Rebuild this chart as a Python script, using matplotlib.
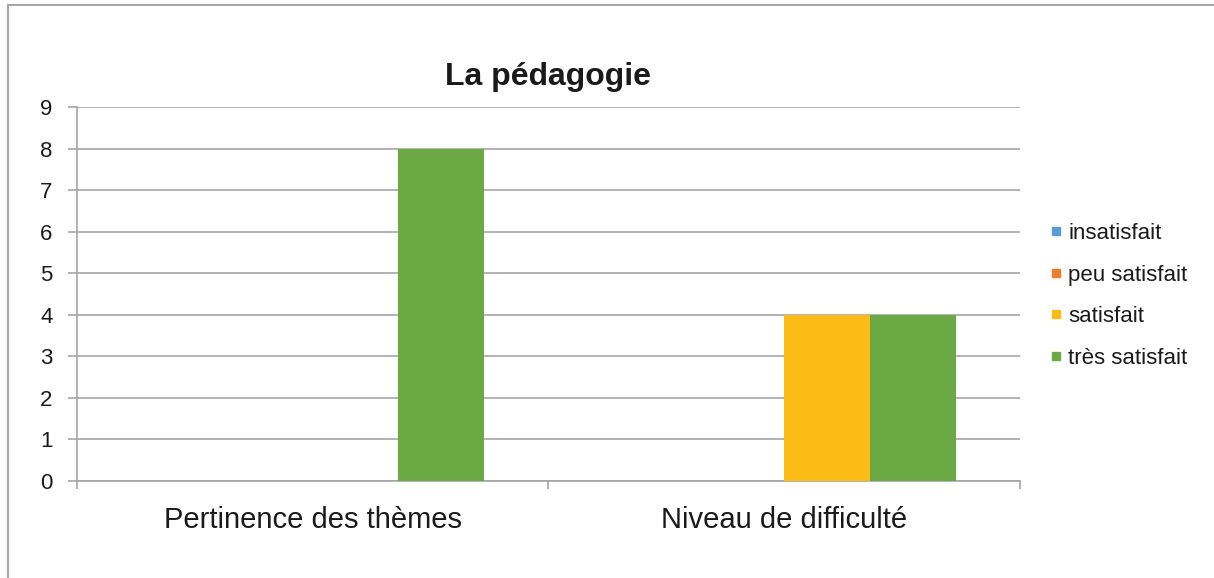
import matplotlib.pyplot as plt
import numpy as np
from matplotlib.lines import Line2D
from matplotlib.patches import Rectangle

# -----------------------------------
# Data
# -----------------------------------
categories = ["Pertinence des thèmes", "Niveau de difficulté"]
series = ["insatisfait", "peu satisfait", "satisfait", "très satisfait"]
insatisfait = [0, 0]
peu_satisfait = [0, 0]
satisfait = [0, 4]
tres_satisfait = [8, 4]
colors = ["#5B9BD5", "#ED7D31", "#FBBD15", "#6AA944"]

plt.rcParams["font.family"] = ["Liberation Sans", "DejaVu Sans"]

fig = plt.figure(figsize=(12.14, 5.78), dpi=100)
ax = fig.add_axes([0.0634, 0.1678, 0.7768, 0.6471])

# Clustered bars, 150% gap between groups
values = [insatisfait, peu_satisfait, satisfait, tres_satisfait]
n = len(series)
width = 1 / (n + 1.5)
x = np.arange(len(categories))
for i, (vals, name) in enumerate(zip(values, series)):
    offset = (i - (n - 1) / 2) * width
    ax.bar(x + offset, vals, width, color=colors[i], label=name, zorder=3)

# -----------------------------------
# Axes styling
# -----------------------------------
grid_col = "#A6A6A6"
ax.set_xlim(-0.5, len(categories) - 0.5)
ax.set_ylim(0, 9)
ax.set_yticks(range(0, 10))
ax.yaxis.grid(True, color=grid_col, linewidth=1.2, zorder=0)
ax.tick_params(axis="y", length=6.5, width=1.2, color=grid_col,
               labelsize=16, pad=11, labelcolor="#1a1a1a")

ax.set_xticks(x)
ax.set_xticklabels(categories)
ax.set_xticks(np.arange(-0.5, len(categories)), minor=True)
ax.tick_params(axis="x", which="major", length=0, labelsize=21,
               pad=18, labelcolor="#1a1a1a")
ax.tick_params(axis="x", which="minor", length=6, width=1.2, color=grid_col)

for side in ["top", "right"]:
    ax.spines[side].set_visible(False)
for side in ["left", "bottom"]:
    ax.spines[side].set_color(grid_col)
    ax.spines[side].set_linewidth(1.2)

ax.set_title("La pédagogie", fontsize=23, fontweight="bold", pad=16,
             color="#1a1a1a")

# Small square swatches in the legend
handles = [Line2D([], [], marker="s", linestyle="", markersize=5.2,
                  color=c) for c in colors]
ax.legend(handles, series, loc="center left", bbox_to_anchor=(1.010, 0.495),
          frameon=False, fontsize=16, handlelength=0.6,
          handletextpad=0.25, labelspacing=0.93, labelcolor="#1a1a1a")

# Chart area frame
fig.add_artist(Rectangle((8 / 1214, -0.1), 1.2, 1.1 - 5 / 578,
                         transform=fig.transFigure, fill=False,
                         edgecolor="#A6A6A6", linewidth=1.5))

fig.savefig("out.png", dpi=100)
